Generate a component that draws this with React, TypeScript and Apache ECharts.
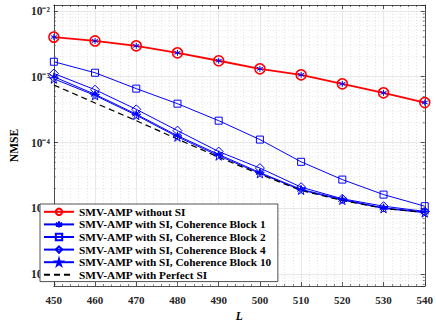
import React, { useEffect, useRef } from 'react';
import * as echarts from 'echarts';

const L = [450, 460, 470, 480, 490, 500, 510, 520, 530, 540];
const withoutSI = [4.0e-3, 3.5e-3, 2.95e-3, 2.31e-3, 1.75e-3, 1.32e-3, 1.07e-3, 7.8e-4, 5.7e-4, 4.05e-4];
const block1 = [1.0e-3, 5.4e-4, 2.7e-4, 1.27e-4, 6.6e-5, 3.5e-5, 1.95e-5, 1.37e-5, 1.02e-5, 8.8e-6];
const block2 = [1.69e-3, 1.15e-3, 6.6e-4, 3.9e-4, 2.15e-4, 1.11e-4, 5.1e-5, 2.74e-5, 1.62e-5, 1.08e-5];
const block4 = [1.12e-3, 6.35e-4, 3.2e-4, 1.52e-4, 7.3e-5, 4.1e-5, 2.1e-5, 1.4e-5, 1.08e-5, 9.0e-6];
const block10 = [9.3e-4, 5.2e-4, 2.6e-4, 1.22e-4, 6.3e-5, 3.4e-5, 1.9e-5, 1.34e-5, 1.0e-5, 8.6e-6];
const perfectSI = [7.5e-4, 4.0e-4, 2.15e-4, 1.13e-4, 6.0e-5, 3.3e-5, 1.87e-5, 1.32e-5, 1.0e-5, 8.7e-6];

const seriesNames = [
  'SMV-AMP without SI',
  'SMV-AMP with SI, Coherence Block 1',
  'SMV-AMP with SI, Coherence Block 2',
  'SMV-AMP with SI, Coherence Block 4',
  'SMV-AMP with SI, Coherence Block 10',
  'SMV-AMP with Perfect SI',
];

const Y_MIN = 6.6e-7;
const Y_MAX = 1.23e-2;
const yMinorTicks = [
  7e-7, 8e-7, 9e-7,
  2e-6, 3e-6, 4e-6, 5e-6, 6e-6, 7e-6, 8e-6, 9e-6,
  2e-5, 3e-5, 4e-5, 5e-5, 6e-5, 7e-5, 8e-5, 9e-5,
  2e-4, 3e-4, 4e-4, 5e-4, 6e-4, 7e-4, 8e-4, 9e-4,
  2e-3, 3e-3, 4e-3, 5e-3, 6e-3, 7e-3, 8e-3, 9e-3,
];

const FONT = '"Liberation Serif", "Times New Roman", serif';
const BLUE = '#0000ff';
const RED = '#ff0000';
const AX = '#262626';

const ASTERISK = 'path://M5,0L5,10M0.67,2.5L9.33,7.5M0.67,7.5L9.33,2.5';
const PENTAGRAM = 'path://M5,0L6.12,3.46L9.76,3.46L6.81,5.59L7.94,9.05L5,6.9L2.06,9.05L3.19,5.59L0.24,3.46L3.88,3.46Z';
const CLEAR = 'rgba(255,255,255,0)';
const SUP: Record<string, string> = {
  '-': '\u207B', '0': '\u2070', '1': '\u00B9', '2': '\u00B2', '3': '\u00B3', '4': '\u2074',
  '5': '\u2075', '6': '\u2076', '7': '\u2077', '8': '\u2078', '9': '\u2079',
};

function pairs(ys: number[]) {
  return L.map((x, i) => [x, ys[i]]);
}

export default function App() {
  const ref = useRef<HTMLDivElement>(null);
  useEffect(() => {
    if (!ref.current) return;
    const chart = echarts.init(ref.current, undefined, { renderer: 'svg' });
    const blueLine = (name: string, data: number[], symbol: string, size: number, z: number) => ({
      name,
      type: 'line',
      data: pairs(data),
      symbol,
      symbolSize: size,
      showSymbol: true,
      z,
      lineStyle: { color: BLUE, width: 1 },
      itemStyle: { color: CLEAR, borderColor: BLUE, borderWidth: 1 },
    });
    const option: any = {
      animation: false,
      textStyle: { fontFamily: FONT },
      grid: { left: 40, right: 9, top: 5, bottom: 40, containLabel: false },
      legend: {
        data: [
          ...seriesNames.slice(0, 5),
          { name: seriesNames[5], itemStyle: { opacity: 0 } },
        ],
        orient: 'vertical',
        left: 40,
        top: 204,
        padding: [1.5, 6, 0.5, 3],
        itemGap: 0,
        itemWidth: 30,
        itemHeight: 8,
        backgroundColor: '#ffffff',
        borderColor: AX,
        borderWidth: 0.8,
        borderRadius: 0,
        selectedMode: false,
        textStyle: { fontFamily: FONT, fontWeight: 'bold', fontSize: 11.3, color: '#000', lineHeight: 12.6 },
      },
      xAxis: [
        {
          type: 'value',
          min: 450,
          max: 540,
          interval: 10,
          name: 'L',
          nameLocation: 'middle',
          nameGap: 22,
          nameTextStyle: { fontFamily: FONT, fontStyle: 'italic', fontWeight: 'bold', fontSize: 11.5, color: '#000' },
          axisLine: { lineStyle: { color: AX, width: 0.8 } },
          axisTick: { inside: true, length: 4, lineStyle: { color: AX, width: 0.8 } },
          minorTick: { show: true, splitNumber: 5, length: 2, lineStyle: { color: AX, width: 0.6 } },
          axisLabel: { fontFamily: FONT, fontWeight: 'bold', fontSize: 11, color: '#262626', margin: 8 },
          splitLine: { show: true, lineStyle: { color: '#e2e2e2', width: 0.8 } },
          minorSplitLine: { show: true, lineStyle: { color: '#d4d4d4', width: 0.6, type: [1, 2] } },
        },
        {
          type: 'value',
          position: 'top',
          min: 450,
          max: 540,
          interval: 10,
          axisLine: { lineStyle: { color: AX, width: 0.8 } },
          axisTick: { inside: true, length: 4, lineStyle: { color: AX, width: 0.8 } },
          minorTick: { show: true, splitNumber: 5, length: 2, lineStyle: { color: AX, width: 0.6 } },
          axisLabel: { show: false },
          splitLine: { show: false },
        },
      ],
      yAxis: [
        {
          type: 'log',
          logBase: 10,
          min: Y_MIN,
          max: Y_MAX,
          splitNumber: 4,
          name: 'NMSE',
          nameLocation: 'middle',
          nameGap: 25,
          nameTextStyle: { fontFamily: FONT, fontWeight: 'bold', fontSize: 11.5, color: '#000' },
          axisLine: { show: true, lineStyle: { color: AX, width: 0.8 } },
          axisTick: { inside: true, length: 4, lineStyle: { color: AX, width: 0.8 } },
          axisLabel: {
            margin: 4,
            fontFamily: FONT,
            fontWeight: 'bold',
            fontSize: 11.5,
            color: '#262626',
            showMinLabel: false,
            showMaxLabel: false,
            formatter: (v: number) => {
              const lg = Math.log10(v);
              const e = Math.round(lg);
              if (Math.abs(lg - e) > 1e-6) return '';
              return '10' + String(e).split('').map((c) => SUP[c] || c).join('');
            },
          },
          splitLine: { show: true, lineStyle: { color: '#e2e2e2', width: 0.8 } },
        },
        {
          type: 'log',
          logBase: 10,
          min: Y_MIN,
          max: Y_MAX,
          splitNumber: 4,
          position: 'right',
          axisLine: { show: true, lineStyle: { color: AX, width: 0.8 } },
          axisTick: { inside: true, length: 4, lineStyle: { color: AX, width: 0.8 } },
          axisLabel: { show: false },
          splitLine: { show: false },
        },
      ],
      series: [
        {
          name: 'minor-grid',
          type: 'custom',
          z: 1,
          silent: true,
          data: yMinorTicks.map((v) => [450, v]),
          renderItem: (params: any, api: any) => {
            const cs = params.coordSys;
            const y = api.coord([450, api.value(1)])[1];
            const x0 = cs.x;
            const x1 = cs.x + cs.width;
            return {
              type: 'group',
              children: [
                { type: 'line', shape: { x1: x0, y1: y, x2: x1, y2: y }, style: { stroke: '#d4d4d4', lineWidth: 0.6, lineDash: [1, 2] } },
                { type: 'line', shape: { x1: x0, y1: y, x2: x0 + 2, y2: y }, style: { stroke: AX, lineWidth: 0.6 } },
                { type: 'line', shape: { x1: x1 - 2, y1: y, x2: x1, y2: y }, style: { stroke: AX, lineWidth: 0.6 } },
              ],
            };
          },
        },
        {
          name: seriesNames[0],
          type: 'line',
          data: pairs(withoutSI),
          symbol: 'circle',
          symbolSize: 10,
          z: 3,
          lineStyle: { color: RED, width: 1.8 },
          itemStyle: { color: CLEAR, borderColor: RED, borderWidth: 1.6 },
        },
        {
          name: 'overlay',
          type: 'line',
          data: pairs(withoutSI),
          symbol: ASTERISK,
          symbolSize: 6,
          z: 4,
          lineStyle: { width: 0, opacity: 0 },
          itemStyle: { color: CLEAR, borderColor: BLUE, borderWidth: 1 },
        },
        blueLine(seriesNames[1], block1, ASTERISK, 8, 3),
        blueLine(seriesNames[2], block2, 'rect', 7, 3),
        blueLine(seriesNames[3], block4, 'diamond', 9, 3),
        blueLine(seriesNames[4], block10, PENTAGRAM, 9, 3),
        {
          name: seriesNames[5],
          type: 'line',
          data: pairs(perfectSI),
          symbol: 'none',
          z: 3,
          lineStyle: { color: '#000', width: 1.2, type: [6, 4] },
          itemStyle: { color: '#000' },
        },
      ],
    };
    chart.setOption(option);
    return () => chart.dispose();
  }, []);
  return <div ref={ref} style={{ width: 436, height: 327, position: 'absolute', left: 0, top: 0 }} />;
}
